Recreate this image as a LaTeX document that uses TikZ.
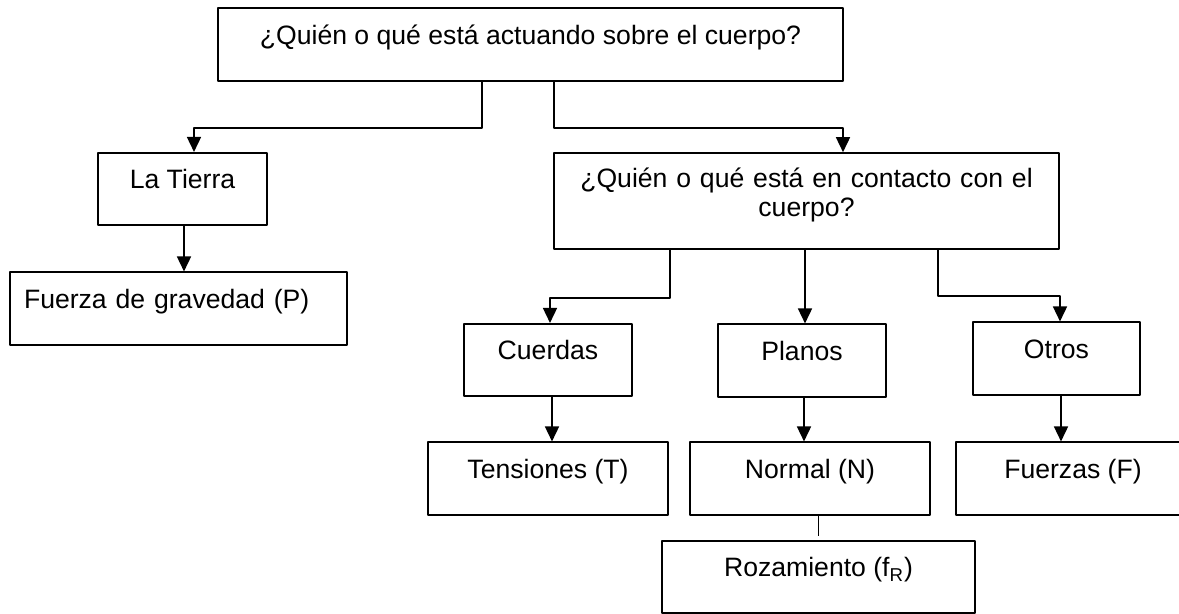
\documentclass[tikz,border=0pt]{standalone}
\usepackage{fontspec}
\setmainfont{Liberation Sans}
\usetikzlibrary{arrows.meta}
\begin{document}
\begin{tikzpicture}[>={Triangle[width=7bp,length=7.5bp]},line join=bevel,line width=0.8bp,
  caja/.style={draw,inner sep=0pt,align=center,text height=18bp,text depth=18.25bp,
    font=\fontsize{13.3bp}{14.5bp}\selectfont},]
\useasboundingbox (0bp,0bp) rectangle (589.5bp,307bp);
%%
\node (node_quien) at (265.25bp,284.75bp) [caja,minimum width=312.5bp] {¿Quién o qué está actuando sobre el cuerpo?};
  \node (node_tierra) at (91.25bp,212.5bp) [caja,minimum width=84.5bp] {La Tierra};
  \node (node_gravedad) at (89.25bp,152.75bp) [caja,inner xsep=7bp,text width=154.5bp,align=left] {Fuerza de gravedad (P)};
  \node (node_contacto) at (403.25bp,206.5bp) [caja,text width=252.5bp,text height=17.5bp,text depth=30.5bp] {¿Quién o qué está en contacto con el\\cuerpo?};
  \node (node_cuerdas) at (274bp,127bp) [caja,minimum width=84bp] {Cuerdas};
  \node (node_planos) at (401bp,126.75bp) [caja,minimum width=84bp] {Planos};
  \node (node_otros) at (528.25bp,127.75bp) [caja,minimum width=83.5bp] {Otros};
  \node (node_tensiones) at (274bp,67.75bp) [caja,minimum width=120bp] {Tensiones (T)};
  \node (node_normal) at (405bp,67.75bp) [caja,minimum width=120bp] {Normal (N)};
  \node (node_fuerzas) at (536.5bp,67.75bp) [caja,minimum width=117bp] {Fuerzas (F)};
  \node (node_rozamiento) at (409.25bp,18.5bp) [caja,minimum width=156.5bp] {Rozamiento (f\textsubscript{R})};
%
  \draw [black,->] (node_quien.south -| 241bp,0) -- (241bp,243bp) -| (node_tierra.north -| 97bp,0);
  \draw [black,->] (node_quien.south -| 277bp,0) -- (277bp,243bp) -| (node_contacto.north -| 421.5bp,0);
  \draw [black,->] (node_tierra.south -| 92bp,0) -- (node_gravedad.north -| 92bp,0);
  \draw [black,->] (node_contacto.south -| 335bp,0) -- (335bp,158bp) -| (node_cuerdas.north -| 275bp,0);
  \draw [black,->] (node_contacto.south -| 402.5bp,0) -- (node_planos.north -| 402.5bp,0);
  \draw [black,->] (node_contacto.south -| 469bp,0) -- (469bp,159bp) -| (node_otros.north -| 530bp,0);
  \draw [black,->] (node_cuerdas.south -| 276bp,0) -- (node_tensiones.north -| 276bp,0);
  \draw [black,->] (node_planos.south -| 402bp,0) -- (node_normal.north -| 402bp,0);
  \draw [black,->] (node_otros.south -| 530.5bp,0) -- (node_fuerzas.north -| 530.5bp,0);
  \draw [black,shorten >=2bp] (node_normal.south -| 409.25bp,0) -- (node_rozamiento.north -| 409.25bp,0);
%
\end{tikzpicture}
\end{document}
